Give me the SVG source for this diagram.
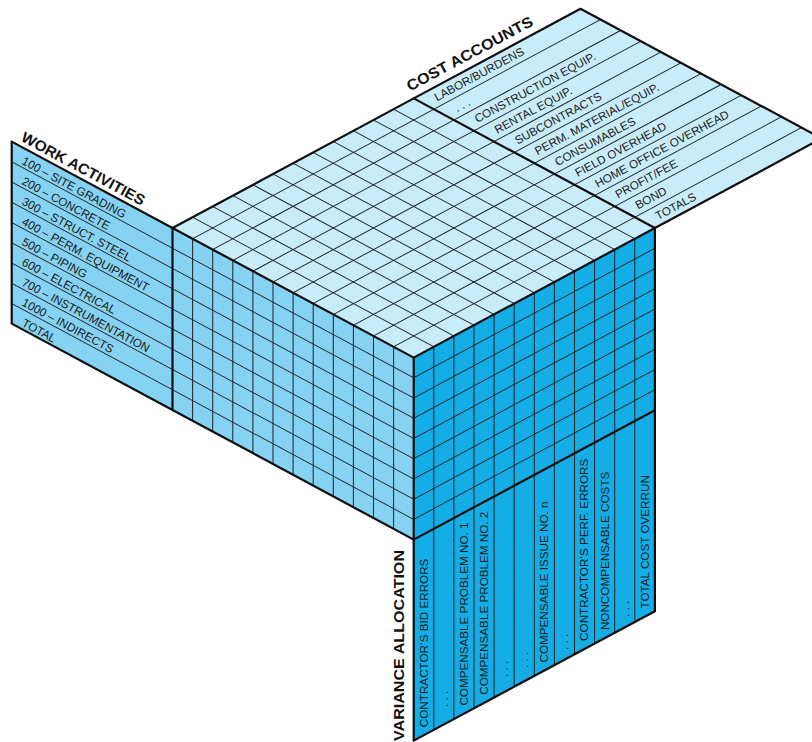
<svg xmlns="http://www.w3.org/2000/svg" width="812" height="742" viewBox="0 0 812 742">
<style>
.thin{stroke:#1d2328;stroke-width:1;fill:none;vector-effect:non-scaling-stroke}
.thick{stroke:#0d0d0d;stroke-width:2.2;fill:none;stroke-linejoin:round;stroke-linecap:round}
.fTop{fill:#c9ecfb}
.fLeft{fill:#86d2f2}
.fRight{fill:#14ade5}
.item{font-family:"Liberation Sans",Arial,sans-serif;font-size:11.7px;fill:#1a1a1a}
.title{font-family:"Liberation Sans",Arial,sans-serif;font-size:15px;font-weight:bold;fill:#111}
</style>
<rect width="812" height="742" fill="#ffffff"/>

<!-- Left vertical plane: work activities panel -->
<g id="work-activities">
  <g transform="matrix(1.005,0.54,0,1,11.7,141.6)">
    <polygon class="fLeft" points="0,0 160,0 160,182 0,182"/>
    <g class="thin">
      <line x1="0" y1="20.22" x2="160" y2="20.22"/>
      <line x1="0" y1="40.44" x2="160" y2="40.44"/>
      <line x1="0" y1="60.67" x2="160" y2="60.67"/>
      <line x1="0" y1="80.89" x2="160" y2="80.89"/>
      <line x1="0" y1="101.11" x2="160" y2="101.11"/>
      <line x1="0" y1="121.33" x2="160" y2="121.33"/>
      <line x1="0" y1="141.56" x2="160" y2="141.56"/>
      <line x1="0" y1="161.78" x2="160" y2="161.78"/>
    </g>
  </g>
  <g class="thick">
    <polyline points="172.5,228 11.7,141.6 11.7,323.6 172.5,410"/>
  </g>
  <text class="title" x="20" y="140.5" transform="rotate(28.25 20 140.5)" textLength="138" lengthAdjust="spacingAndGlyphs">WORK ACTIVITIES</text>
  <g class="item">
    <text x="21" y="163.6" transform="rotate(28.25 21 163.6)">100 – SITE GRADING</text>
    <text x="21" y="183.8" transform="rotate(28.25 21 183.8)">200 – CONCRETE</text>
    <text x="21" y="204.0" transform="rotate(28.25 21 204.0)">300 – STRUCT. STEEL</text>
    <text x="21" y="224.3" transform="rotate(28.25 21 224.3)">400 – PERM. EQUIPMENT</text>
    <text x="21" y="244.5" transform="rotate(28.25 21 244.5)">500 – PIPING</text>
    <text x="21" y="264.7" transform="rotate(28.25 21 264.7)">600 – ELECTRICAL</text>
    <text x="21" y="284.9" transform="rotate(28.25 21 284.9)">700 – INSTRUMENTATION</text>
    <text x="21" y="305.1" transform="rotate(28.25 21 305.1)">1000 – INDIRECTS</text>
    <text x="21" y="325.4" transform="rotate(28.25 21 325.4)">TOTAL</text>
  </g>
</g>

<!-- Cube -->
<g id="cube">
  <g id="cube-left-face" transform="matrix(1.005,0.54,0,1,11.7,141.6)">
    <polygon class="fLeft" points="160,0 400,0 400,182 160,182"/>
    <g class="thin">
      <line x1="160" y1="20.22" x2="400" y2="20.22"/>
      <line x1="160" y1="40.44" x2="400" y2="40.44"/>
      <line x1="160" y1="60.67" x2="400" y2="60.67"/>
      <line x1="160" y1="80.89" x2="400" y2="80.89"/>
      <line x1="160" y1="101.11" x2="400" y2="101.11"/>
      <line x1="160" y1="121.33" x2="400" y2="121.33"/>
      <line x1="160" y1="141.56" x2="400" y2="141.56"/>
      <line x1="160" y1="161.78" x2="400" y2="161.78"/>
      <line x1="180" y1="0" x2="180" y2="182"/>
      <line x1="200" y1="0" x2="200" y2="182"/>
      <line x1="220" y1="0" x2="220" y2="182"/>
      <line x1="240" y1="0" x2="240" y2="182"/>
      <line x1="260" y1="0" x2="260" y2="182"/>
      <line x1="280" y1="0" x2="280" y2="182"/>
      <line x1="300" y1="0" x2="300" y2="182"/>
      <line x1="320" y1="0" x2="320" y2="182"/>
      <line x1="340" y1="0" x2="340" y2="182"/>
      <line x1="360" y1="0" x2="360" y2="182"/>
      <line x1="380" y1="0" x2="380" y2="182"/>
    </g>
  </g>
  <g id="cube-right-face" transform="matrix(1.005,-0.54,0,1,413.7,357.6)">
    <polygon class="fRight" points="0,0 240,0 240,182 0,182"/>
    <g class="thin">
      <line x1="0" y1="20.22" x2="240" y2="20.22"/>
      <line x1="0" y1="40.44" x2="240" y2="40.44"/>
      <line x1="0" y1="60.67" x2="240" y2="60.67"/>
      <line x1="0" y1="80.89" x2="240" y2="80.89"/>
      <line x1="0" y1="101.11" x2="240" y2="101.11"/>
      <line x1="0" y1="121.33" x2="240" y2="121.33"/>
      <line x1="0" y1="141.56" x2="240" y2="141.56"/>
      <line x1="0" y1="161.78" x2="240" y2="161.78"/>
    </g>
  </g>
  <g id="cube-top-face" transform="matrix(1.005,-0.54,1.005,0.54,172.5,228)">
    <polygon class="fTop" points="0,0 240,0 240,240 0,240"/>
    <g class="thin">
      <line x1="20" y1="0" x2="20" y2="240"/>
      <line x1="40" y1="0" x2="40" y2="240"/>
      <line x1="60" y1="0" x2="60" y2="240"/>
      <line x1="80" y1="0" x2="80" y2="240"/>
      <line x1="100" y1="0" x2="100" y2="240"/>
      <line x1="120" y1="0" x2="120" y2="240"/>
      <line x1="140" y1="0" x2="140" y2="240"/>
      <line x1="160" y1="0" x2="160" y2="240"/>
      <line x1="180" y1="0" x2="180" y2="240"/>
      <line x1="200" y1="0" x2="200" y2="240"/>
      <line x1="220" y1="0" x2="220" y2="240"/>
      <line x1="0" y1="20" x2="240" y2="20"/>
      <line x1="0" y1="40" x2="240" y2="40"/>
      <line x1="0" y1="60" x2="240" y2="60"/>
      <line x1="0" y1="80" x2="240" y2="80"/>
      <line x1="0" y1="100" x2="240" y2="100"/>
      <line x1="0" y1="120" x2="240" y2="120"/>
      <line x1="0" y1="140" x2="240" y2="140"/>
      <line x1="0" y1="160" x2="240" y2="160"/>
      <line x1="0" y1="180" x2="240" y2="180"/>
      <line x1="0" y1="200" x2="240" y2="200"/>
      <line x1="0" y1="220" x2="240" y2="220"/>
    </g>
  </g>
</g>

<!-- Cost accounts panel -->
<g id="cost-accounts">
  <g transform="matrix(1.005,-0.54,1.005,0.54,172.5,228)">
    <polygon class="fTop" points="240,0 406,0 406,240 240,240"/>
    <g class="thin">
      <line x1="240" y1="20" x2="406" y2="20"/>
      <line x1="240" y1="40" x2="406" y2="40"/>
      <line x1="240" y1="60" x2="406" y2="60"/>
      <line x1="240" y1="80" x2="406" y2="80"/>
      <line x1="240" y1="100" x2="406" y2="100"/>
      <line x1="240" y1="120" x2="406" y2="120"/>
      <line x1="240" y1="140" x2="406" y2="140"/>
      <line x1="240" y1="160" x2="406" y2="160"/>
      <line x1="240" y1="180" x2="406" y2="180"/>
      <line x1="240" y1="200" x2="406" y2="200"/>
      <line x1="240" y1="220" x2="406" y2="220"/>
    </g>
  </g>
  <g class="thick">
    <polyline points="413.7,98.4 580.5,8.8 821.7,138.4 654.9,228"/>
  </g>
  <text class="title" x="410" y="91.5" transform="rotate(-28.25 410 91.5)" textLength="141" lengthAdjust="spacingAndGlyphs">COST ACCOUNTS</text>
  <g class="item">
    <text x="437" y="101.5" transform="rotate(-28.25 437 101.5)">LABOR/BURDENS</text>
    <text x="457.1" y="112.3" transform="rotate(-28.25 457.1 112.3)">. . .</text>
    <text x="477.2" y="123.1" transform="rotate(-28.25 477.2 123.1)">CONSTRUCTION EQUIP.</text>
    <text x="497.3" y="133.9" transform="rotate(-28.25 497.3 133.9)">RENTAL EQUIP.</text>
    <text x="517.4" y="144.7" transform="rotate(-28.25 517.4 144.7)">SUBCONTRACTS</text>
    <text x="537.5" y="155.5" transform="rotate(-28.25 537.5 155.5)">PERM. MATERIAL/EQUIP.</text>
    <text x="557.6" y="166.3" transform="rotate(-28.25 557.6 166.3)">CONSUMABLES</text>
    <text x="577.7" y="177.1" transform="rotate(-28.25 577.7 177.1)">FIELD OVERHEAD</text>
    <text x="597.8" y="187.9" transform="rotate(-28.25 597.8 187.9)">HOME OFFICE OVERHEAD</text>
    <text x="617.9" y="198.7" transform="rotate(-28.25 617.9 198.7)">PROFIT/FEE</text>
    <text x="638" y="209.5" transform="rotate(-28.25 638 209.5)">BOND</text>
    <text x="658.1" y="220.3" transform="rotate(-28.25 658.1 220.3)">TOTALS</text>
  </g>
</g>

<!-- Variance allocation panel -->
<g id="variance-allocation">
  <g transform="matrix(1.005,-0.54,0,1,413.7,357.6)">
    <polygon class="fRight" points="0,182 240,182 240,383 0,383"/>
    <g class="thin">
      <line x1="20" y1="0" x2="20" y2="383"/>
      <line x1="40" y1="0" x2="40" y2="383"/>
      <line x1="60" y1="0" x2="60" y2="383"/>
      <line x1="80" y1="0" x2="80" y2="383"/>
      <line x1="100" y1="0" x2="100" y2="383"/>
      <line x1="120" y1="0" x2="120" y2="383"/>
      <line x1="140" y1="0" x2="140" y2="383"/>
      <line x1="160" y1="0" x2="160" y2="383"/>
      <line x1="180" y1="0" x2="180" y2="383"/>
      <line x1="200" y1="0" x2="200" y2="383"/>
      <line x1="220" y1="0" x2="220" y2="383"/>
    </g>
  </g>
  <text class="title" x="404" y="741" transform="rotate(-90 404 741)" textLength="191" lengthAdjust="spacingAndGlyphs">VARIANCE ALLOCATION</text>
  <g class="item">
    <text x="427.7" y="727.2" transform="rotate(-90 427.7 727.2)">CONTRACTOR’S BID ERRORS</text>
    <text x="447.8" y="707" transform="rotate(-90 447.8 707)">. . .</text>
    <text x="467.9" y="705.6" transform="rotate(-90 467.9 705.6)">COMPENSABLE PROBLEM NO. 1</text>
    <text x="488" y="694.8" transform="rotate(-90 488 694.8)">COMPENSABLE PROBLEM NO. 2</text>
    <text x="508.1" y="677" transform="rotate(-90 508.1 677)">. . .</text>
    <text x="528.2" y="668" transform="rotate(-90 528.2 668)">. . .</text>
    <text x="548.3" y="662.5" transform="rotate(-90 548.3 662.5)">COMPENSABLE ISSUE NO. n</text>
    <text x="568.4" y="650" transform="rotate(-90 568.4 650)">. . .</text>
    <text x="588.5" y="640.9" transform="rotate(-90 588.5 640.9)">CONTRACTOR’S PERF. ERRORS</text>
    <text x="608.6" y="630.1" transform="rotate(-90 608.6 630.1)">NONCOMPENSABLE COSTS</text>
    <text x="628.7" y="617" transform="rotate(-90 628.7 617)">. . .</text>
    <text x="648.8" y="608.5" transform="rotate(-90 648.8 608.5)">TOTAL COST OVERRUN</text>
  </g>
</g>

<!-- Outline edges -->
<g id="edges" class="thick">
  <line x1="172.5" y1="228" x2="413.7" y2="98.4"/>
  <line x1="172.5" y1="228" x2="413.7" y2="357.6"/>
  <line x1="413.7" y1="357.6" x2="654.9" y2="228"/>
  <line x1="413.7" y1="98.4" x2="654.9" y2="228"/>
  <line x1="172.5" y1="228" x2="172.5" y2="410"/>
  <line x1="172.5" y1="410" x2="413.7" y2="539.6"/>
  <line x1="413.7" y1="357.6" x2="413.7" y2="740.6"/>
  <line x1="654.9" y1="228" x2="654.9" y2="611.2"/>
  <line x1="413.7" y1="539.6" x2="654.9" y2="410.2"/>
  <line x1="413.7" y1="740.6" x2="654.9" y2="611.2"/>
</g>
<g id="connectors"></g>
</svg>
